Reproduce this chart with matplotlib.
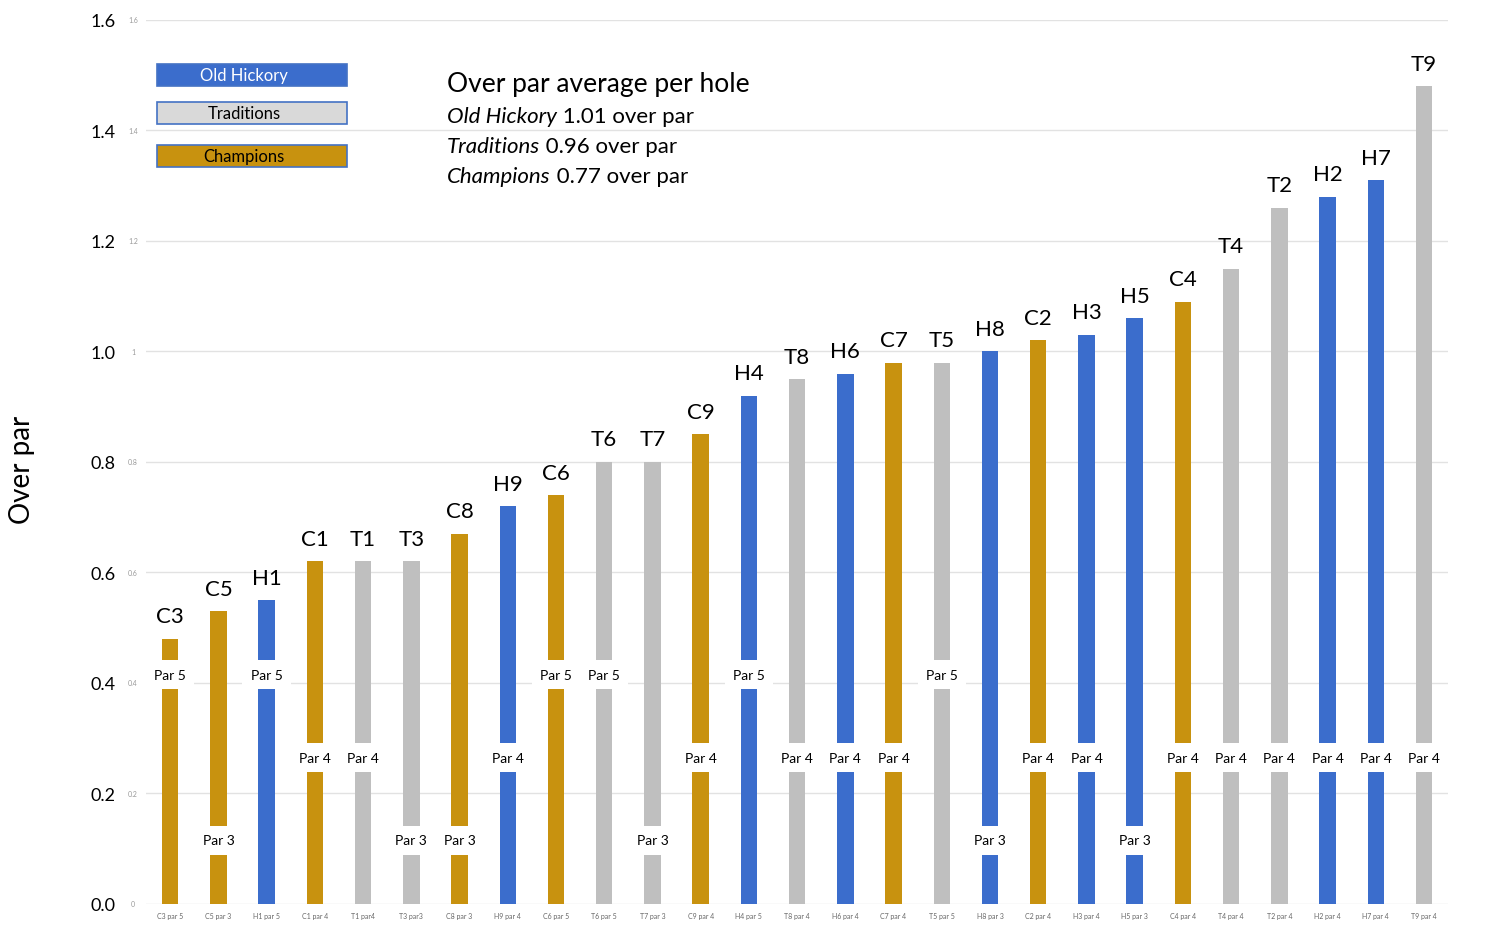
import matplotlib.pyplot as plt
from matplotlib.patches import Rectangle
from matplotlib.transforms import offset_copy

plt.rcParams['font.family'] = ['Lato', 'DejaVu Sans']

holes = ["C3", "C5", "H1", "C1", "T1", "T3", "C8", "H9", "C6", "T6", "T7", "C9", "H4", "T8",
         "H6", "C7", "T5", "H8", "C2", "H3", "H5", "C4", "T4", "T2", "H2", "H7", "T9"]
pars = [5, 3, 5, 4, 4, 3, 3, 4, 5, 5, 3, 4, 5, 4, 4, 4, 5, 3, 4, 4, 3, 4, 4, 4, 4, 4, 4]
over_par = [0.48, 0.53, 0.55, 0.62, 0.62, 0.62, 0.67, 0.72, 0.74, 0.80, 0.80, 0.85, 0.92, 0.95,
            0.96, 0.98, 0.98, 1.00, 1.02, 1.03, 1.06, 1.09, 1.15, 1.26, 1.28, 1.31, 1.48]
tick_labels = ["C3 par 5", "C5 par 3", "H1 par 5", "C1 par 4", "T1 par4", "T3 par3", "C8 par 3",
               "H9 par 4", "C6 par 5", "T6 par 5", "T7 par 3", "C9 par 4", "H4 par 5", "T8 par 4",
               "H6 par 4", "C7 par 4", "T5 par 5", "H8 par 3", "C2 par 4", "H3 par 4", "H5 par 3",
               "C4 par 4", "T4 par 4", "T2 par 4", "H2 par 4", "H7 par 4", "T9 par 4"]
y_ticks = [0.0, 0.2, 0.4, 0.6, 0.8, 1.0, 1.2, 1.4, 1.6]
y_small = ["0", "0.2", "0.4", "0.6", "0.8", "1", "1.2", "1.4", "1.6"]

courses = ["Old Hickory", "Traditions", "Champions"]
averages = [1.01, 0.96, 0.77]

colors = {"H": "#3b6dcc", "T": "#bfbfbf", "C": "#c8920f"}
par_label_y = {5: 0.415, 4: 0.265, 3: 0.115}

fig = plt.figure(figsize=(14.92, 9.37), dpi=100)
ax = fig.add_axes([0.0979, 0.0342, 0.8727, 0.9434])

x = list(range(len(holes)))
ax.bar(x, over_par, width=0.34, color=[colors[h[0]] for h in holes], zorder=2)

for xi, h, v, p in zip(x, holes, over_par, pars):
    ax.annotate(h, (xi, v), xytext=(0, 9), textcoords='offset points',
                ha='center', va='bottom', fontsize=16)
    ax.text(xi, par_label_y[p], "Par %d" % p, ha='center', va='center', fontsize=10, zorder=3,
            bbox=dict(facecolor='white', edgecolor='none', pad=6))

ax.set_xlim(-0.5, len(holes) - 0.5)
ax.set_ylim(0, 1.6)
ax.set_xticks(x)
ax.set_xticklabels(tick_labels, fontsize=5, color='#666666')
ax.set_yticks(y_ticks)
ax.set_yticklabels(["%.1f" % t for t in y_ticks], fontsize=13)
ax.tick_params(axis='both', length=0)
ax.tick_params(axis='y', pad=22)
ax.tick_params(axis='x', pad=6)
for t, s in zip(y_ticks, y_small):
    ax.text(-0.01, t, s, transform=ax.get_yaxis_transform(), ha='center', va='center',
            fontsize=5, color='#999999')

ax.yaxis.grid(True, color='#e2e2e2', lw=1)
ax.set_axisbelow(True)
for s in ax.spines.values():
    s.set_visible(False)

fig.text(0.0147, 0.498, "Over par", rotation=90, ha='center', va='center', fontsize=20)

# legend boxes
box_y = [0.9072, 0.8666, 0.8207]
box_face = {"Old Hickory": "#3b6dcc", "Traditions": "#d9d9d9", "Champions": "#c8920f"}
for name, by in zip(courses, box_y):
    fig.patches.append(Rectangle((0.1052, by), 0.1273, 0.0232, transform=fig.transFigure,
                                 facecolor=box_face[name], edgecolor='#4472c4', lw=1.2))
    fig.text(0.1635, by + 0.0116, name, ha='center', va='center', fontsize=12,
             color='white' if name == "Old Hickory" else 'black')

# summary text
fig.text(0.2996, 0.9093, "Over par average per hole", ha='left', va='center', fontsize=19)
line_y = [0.8751, 0.8431, 0.8111]
renderer = fig.canvas.get_renderer()
for name, avg, ly in zip(courses, averages, line_y):
    t = fig.text(0.2996, ly, name, ha='left', va='center', fontsize=16, style='italic')
    w = t.get_window_extent(renderer).width
    fig.text(0.2996, ly, " %.2f over par" % avg, ha='left', va='center', fontsize=16,
             transform=offset_copy(fig.transFigure, fig=fig, x=w * 72 / fig.dpi, units='points'))

fig.savefig("out.png", dpi=100)
